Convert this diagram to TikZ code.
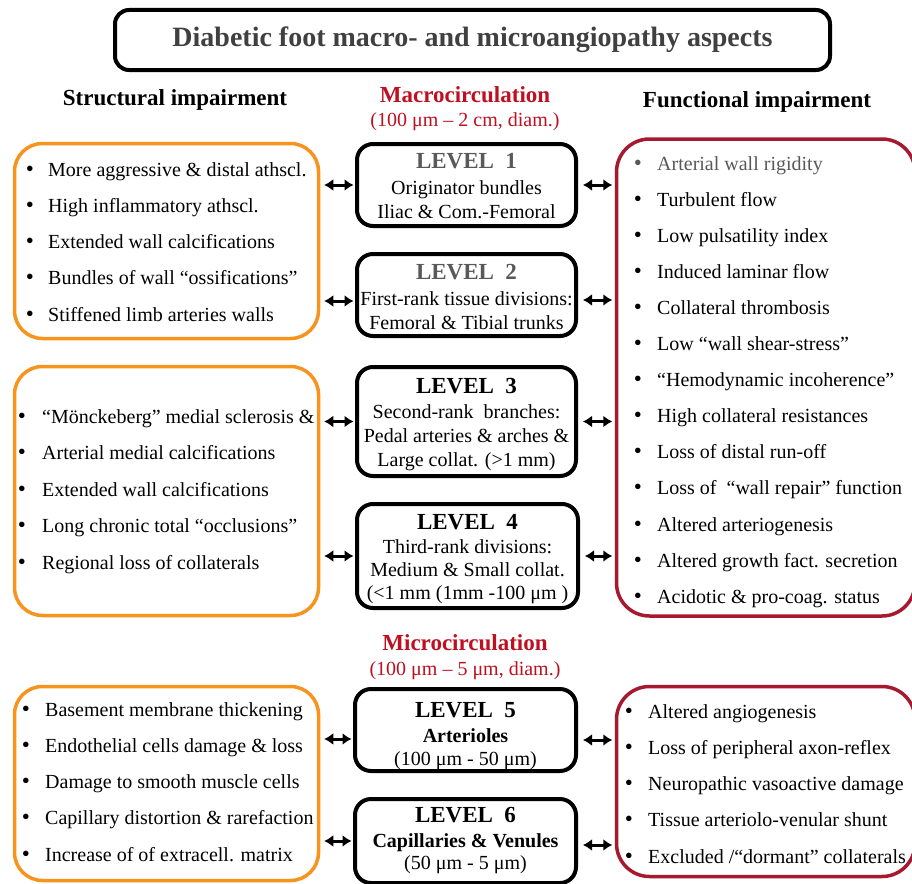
\documentclass[tikz,border=0pt]{standalone}
\usepackage{fontspec}
\setmainfont{Liberation Serif}
\usetikzlibrary{arrows.meta,calc}
\definecolor{orng}{RGB}{247,148,30}
\definecolor{crim}{RGB}{166,25,46}
\definecolor{redt}{RGB}{190,16,32}
\definecolor{gtxt}{RGB}{89,89,89}
\definecolor{ttl}{RGB}{64,64,64}
\tikzset{
  obox/.style={draw=orng, line width=3.5pt, rounded corners=28pt, inner sep=0pt},
  rbox/.style={draw=crim, line width=3.5pt, rounded corners=33pt, inner sep=0pt},
  lbox/.style={draw=black, line width=4pt, rounded corners=16pt, inner sep=0pt, minimum width=219pt},
  itm/.style={anchor=base west, inner sep=0pt, font=\fontsize{20}{24}\selectfont},
  bul/.style={anchor=base, inner sep=0pt, font=\fontsize{23}{26}\selectfont},
  ctr/.style={anchor=base, inner sep=0pt, font=\fontsize{20}{24}\selectfont},
  ctrb/.style={anchor=base, inner sep=0pt, font=\fontsize{20}{24}\selectfont\bfseries},
  lvh/.style={anchor=base, inner sep=0pt, font=\fontsize{23}{26}\selectfont\bfseries},
  hd/.style={anchor=base, inner sep=0pt, font=\fontsize{23}{26}\selectfont\bfseries},
  sub/.style={anchor=base, inner sep=0pt, text=redt, font=\fontsize{20}{24}\selectfont},
  arrbase/.style={line width=3pt, {Latex[length=9pt,width=12pt]}-{Latex[length=9pt,width=12pt]}},
  arrL/.style={arrbase, shorten <=4pt, shorten >=1.5pt},
  arrR/.style={arrbase, shorten <=5pt, shorten >=2.5pt}
}
\begin{document}
\begin{tikzpicture}[x=1pt,y=-1pt]
\useasboundingbox (0,0) rectangle (912,883);
\clip (0,0) rectangle (912,883);
\fill[white] (0,0) rectangle (912,883);

% title
\node[draw=black, line width=4pt, rounded corners=14pt, minimum width=715pt, minimum height=60pt, inner sep=0pt,
      text=ttl, font=\fontsize{28}{32}\selectfont\bfseries] (title) at (472.5,40) {Diabetic foot macro- and microangiopathy aspects};

% headings
\node[hd] (hs) at (175,105) {Structural impairment};
\node[hd, text=redt] (hm) at (465,102) {Macrocirculation};
\node[sub] (hmd) at (465,126) {(100 μm – 2 cm, diam.)};
\node[hd] (hf) at (757,107) {Functional impairment};
\node[hd, text=redt] (hmi) at (465,650) {Microcirculation};
\node[sub] (hmid) at (465,675) {(100 μm – 5 μm, diam.)};

% left boxes
\node[obox, minimum width=304pt, minimum height=195pt] (lbA) at (166.5,241) {};
\node[obox, minimum width=304pt, minimum height=249pt] (lbB) at (166.5,491) {};
\node[obox, minimum width=304pt, minimum height=194pt] (lbC) at (166.5,783.5) {};

% right boxes
\node[rbox, minimum width=298.5pt, minimum height=477pt] (rbA) at (765.75,377.5) {};
\node[rbox, minimum width=298.5pt, minimum height=190pt] (rbB) at (765.75,781.5) {};

% center level boxes
\node[lbox, minimum height=82pt] (L1) at (466.5,185) {};
\node[lbox, minimum height=82pt] (L2) at (466.5,295) {};
\node[lbox, minimum height=109pt] (L3) at (466.5,421.5) {};
\node[lbox, minimum height=104pt, minimum width=221pt] (L4) at (467.5,556) {};
\node[lbox, minimum height=82pt, minimum width=221pt] (L5) at (465.5,730) {};
\node[lbox, minimum height=84pt, minimum width=221pt] (L6) at (465.5,841) {};

% level texts
\node[lvh, text=gtxt] (L1a) at (466.5,168) {LEVEL\ \ 1};
\node[ctr] (L1b) at (466.5,194) {Originator bundles};
\node[ctr] (L1c) at (466.5,218) {Iliac \& Com.-Femoral};

\node[lvh, text=gtxt] (L2a) at (466.5,279) {LEVEL\ \ 2};
\node[ctr] (L2b) at (466.5,305) {First-rank tissue divisions:};
\node[ctr] (L2c) at (466.5,329) {Femoral \& Tibial trunks};

\node[lvh] (L3a) at (466.5,393) {LEVEL\ \ 3};
\node[ctr] (L3b) at (466.5,418) {Second-rank\ \ branches:};
\node[ctr] (L3c) at (466.5,442) {Pedal arteries \& arches \&};
\node[ctr] (L3d) at (466.5,466) {Large collat. (>1 mm)};

\node[lvh] (L4a) at (467.5,529) {LEVEL\ \ 4};
\node[ctr] (L4b) at (467.5,553) {Third-rank divisions:};
\node[ctr] (L4c) at (467.5,576) {Medium \& Small collat.};
\node[ctr] (L4d) at (467.5,599) {(<1 mm (1mm -100 μm )};

\node[lvh] (L5a) at (465.5,717) {LEVEL\ \ 5};
\node[ctrb] (L5b) at (465.5,742) {Arterioles};
\node[ctr] (L5c) at (465.5,765) {(100 μm - 50 μm)};

\node[lvh] (L6a) at (465.5,822) {LEVEL\ \ 6};
\node[ctrb] (L6b) at (465.5,847) {Capillaries \& Venules};
\node[ctr] (L6c) at (465.5,869) {(50 μm - 5 μm)};

% left items
\foreach \t [count=\i from 0] in {{More aggressive \& distal athscl.},{High inflammatory athscl.},{Extended wall calcifications},{Bundles of wall “ossifications”},{Stiffened limb arteries walls}}{
  \node[bul] (bA\i) at (30,176+36.25*\i) {•};
  \node[itm] (tA\i) at (48,176+36.25*\i) {\t};
}
\foreach \t [count=\i from 0] in {{“Mönckeberg” medial sclerosis \&},{Arterial medial calcifications},{Extended wall calcifications},{Long chronic total “occlusions”},{Regional loss of collaterals}}{
  \node[bul] (bB\i) at (22,423+36.5*\i) {•};
  \node[itm] (tB\i) at (42,423+36.5*\i) {\t};
}
\foreach \t [count=\i from 0] in {{Basement membrane thickening},{Endothelial cells damage \& loss},{Damage to smooth muscle cells},{Capillary distortion \& rarefaction},{Increase of of extracell. matrix}}{
  \node[bul] (bC\i) at (26,716+36.25*\i) {•};
  \node[itm] (tC\i) at (45,716+36.25*\i) {\t};
}

% right items
\node[bul, text=gtxt] (bR0) at (638,170) {•};
\node[itm, text=gtxt] (tR0) at (657,170) {Arterial wall rigidity};
\foreach \t [count=\i from 1] in {{Turbulent flow},{Low pulsatility index},{Induced laminar flow},{Collateral thrombosis},{Low “wall shear-stress”},{“Hemodynamic incoherence”},{High collateral resistances},{Loss of distal run-off},{Loss of\ \ “wall repair” function},{Altered arteriogenesis},{Altered growth fact. secretion},{Acidotic \& pro-coag. status}}{
  \node[bul] (bR\i) at (638,170+36.1*\i) {•};
  \node[itm] (tR\i) at (657,170+36.1*\i) {\t};
}
\foreach \t [count=\i from 0] in {{Altered angiogenesis},{Loss of peripheral axon-reflex},{Neuropathic vasoactive damage},{Tissue arteriolo-venular shunt},{Excluded /“dormant” collaterals}}{
  \node[bul] (bS\i) at (629,718+36.25*\i) {•};
  \node[itm] (tS\i) at (648,718+36.25*\i) {\t};
}

% arrows
\draw[arrL] (lbA.east |- L1.west) -- (L1.west);
\draw[arrR] (L1.east) -- (rbA.west |- L1.east);
\draw[arrL] ($(lbA.east |- L2.west)+(0,6)$) -- ($(L2.west)+(0,6)$);
\draw[arrR] ($(L2.east)+(0,5)$) -- ($(rbA.west |- L2.east)+(0,5)$);
\draw[arrL] (lbB.east |- L3.west) -- (L3.west);
\draw[arrR] (L3.east) -- (rbA.west |- L3.east);
\draw[arrL] (lbB.east |- L4.west) -- (L4.west);
\draw[arrR] (L4.east) -- (rbA.west |- L4.east);
\draw[arrL] ($(lbC.east |- L5.west)+(0,9)$) -- ($(L5.west)+(0,9)$);
\draw[arrR] ($(L5.east)+(0,10)$) -- ($(rbB.west |- L5.east)+(0,10)$);
\draw[arrL] (lbC.east |- L6.west) -- (L6.west);
\draw[arrR] ($(L6.east)+(0,4)$) -- ($(rbB.west |- L6.east)+(0,4)$);
\end{tikzpicture}
\end{document}
